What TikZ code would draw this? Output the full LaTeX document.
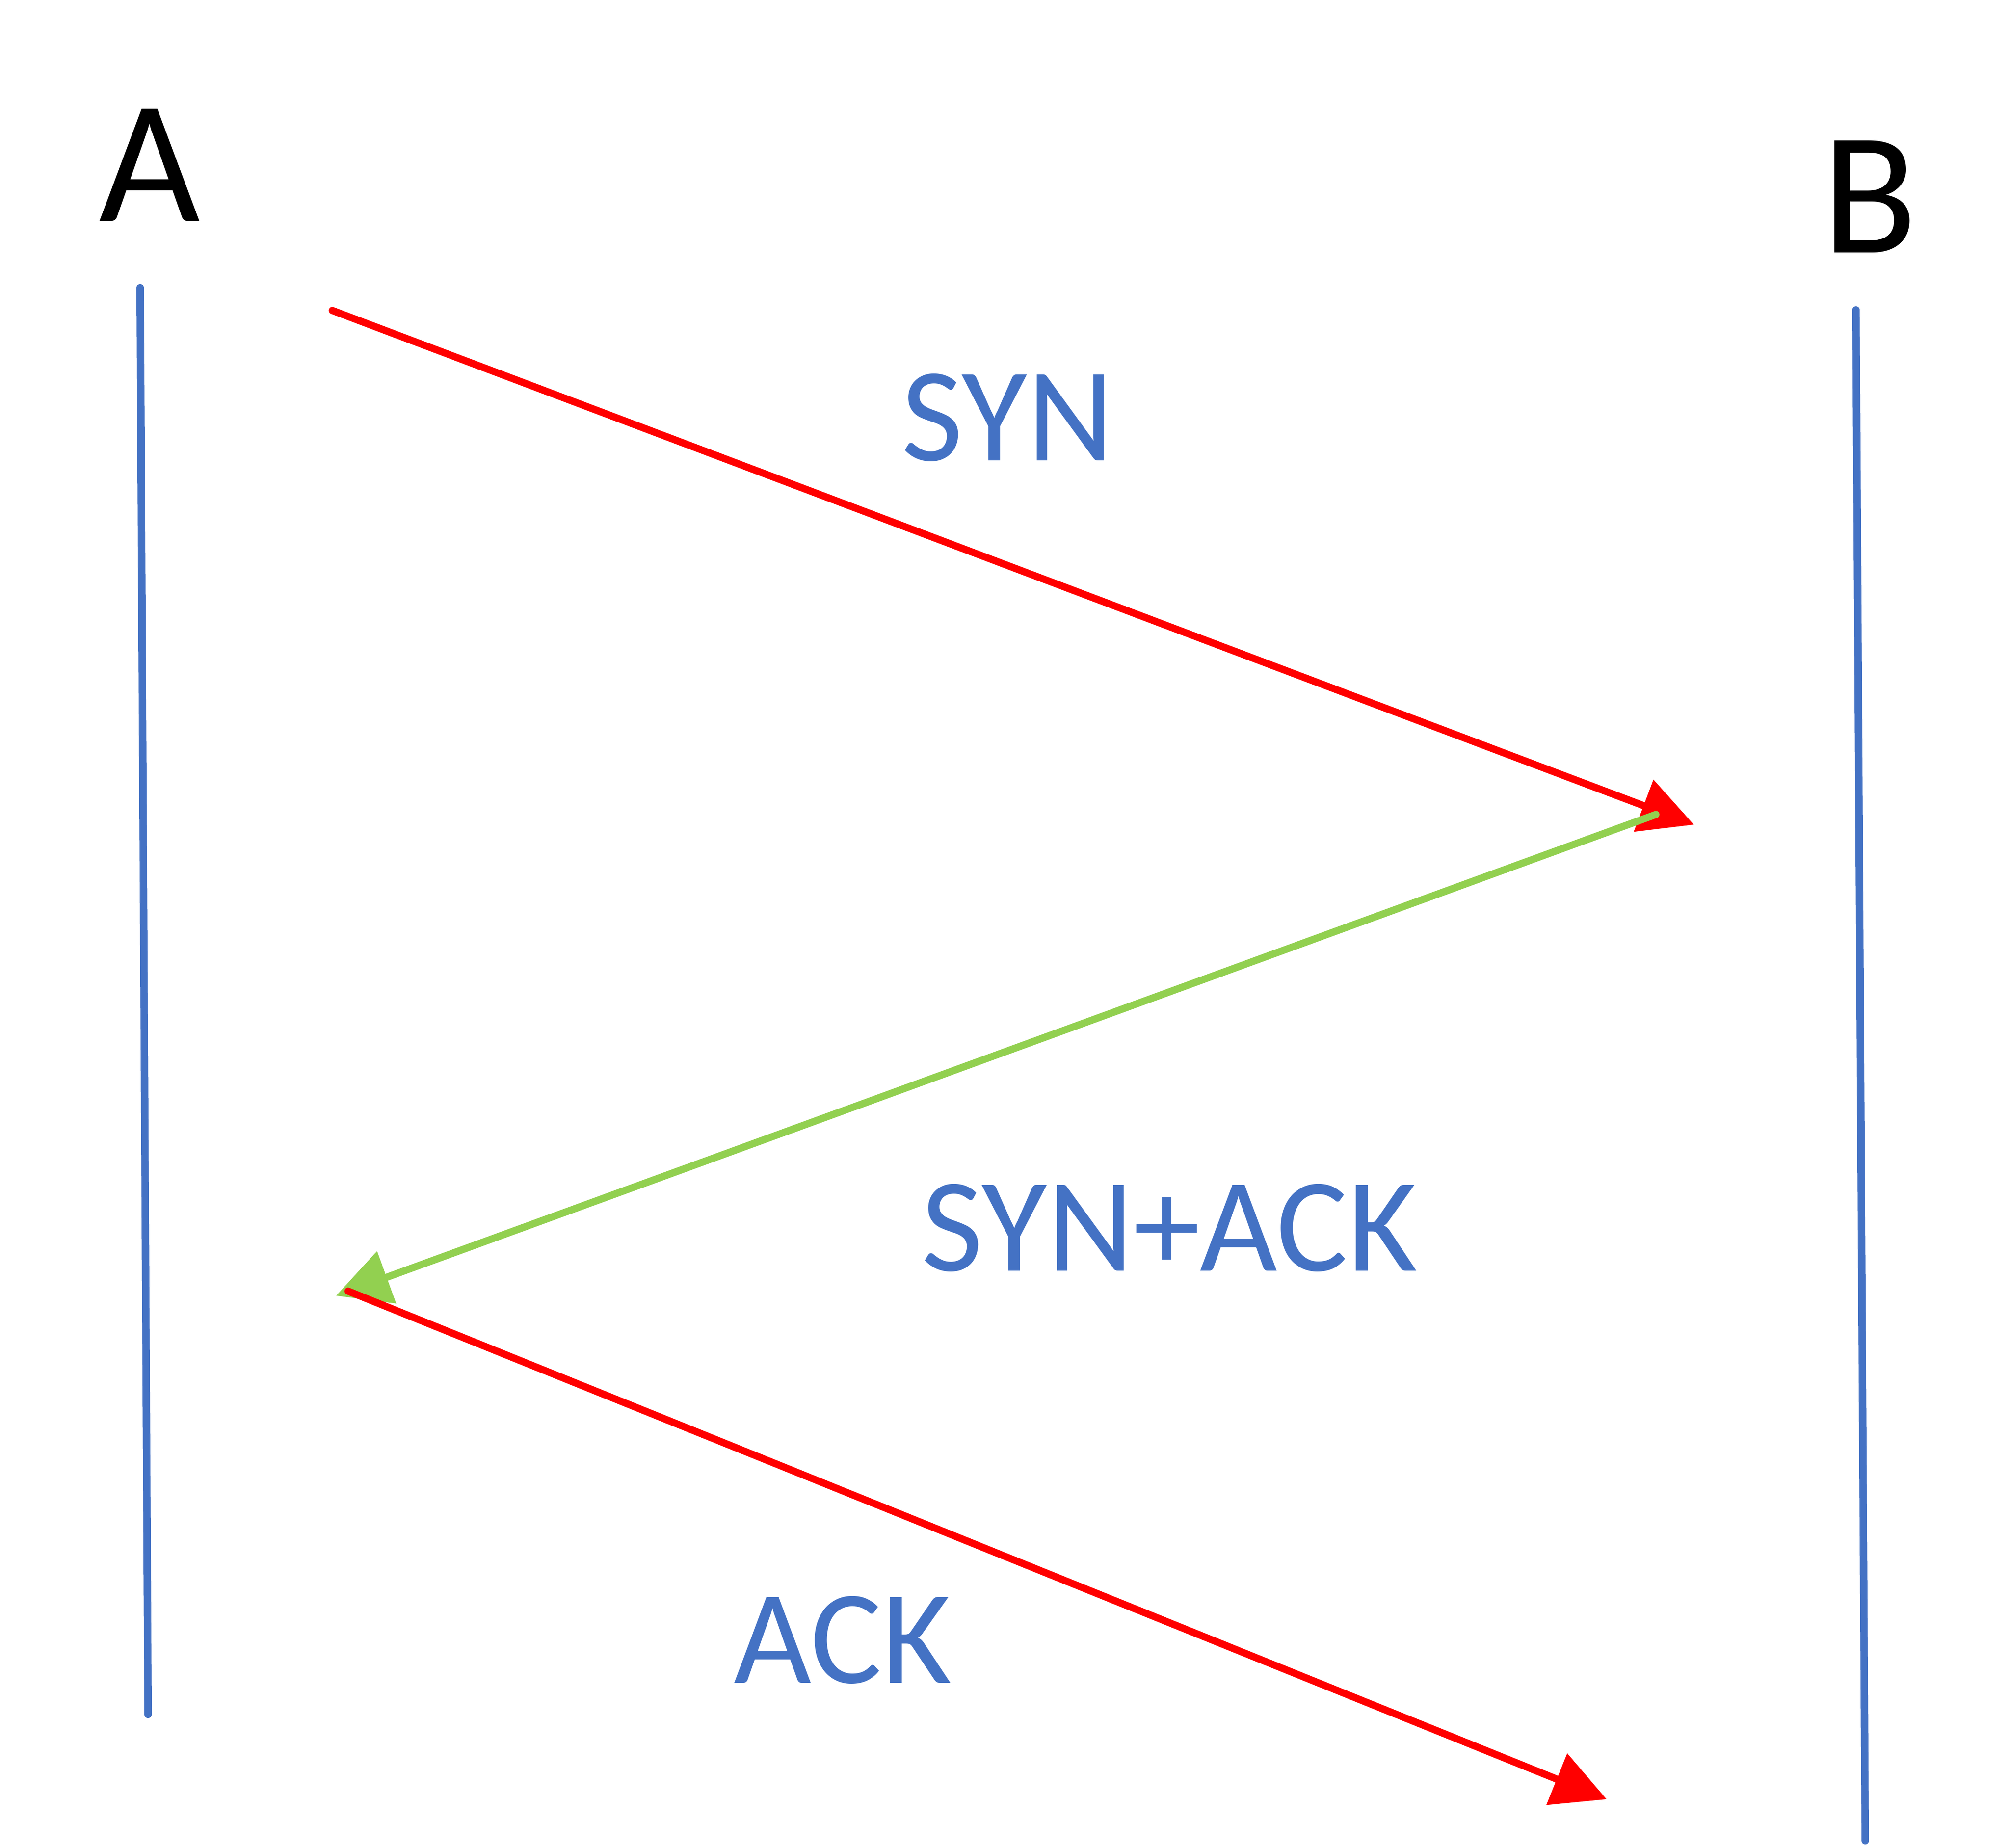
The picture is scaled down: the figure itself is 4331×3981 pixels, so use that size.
\documentclass[tikz,border=0pt]{standalone}
\usepackage{fontspec}
\setmainfont{Carlito}
\usetikzlibrary{arrows.meta}
\definecolor{lineblue}{HTML}{4472C4}
\definecolor{msgred}{HTML}{FF0000}
\definecolor{msggreen}{HTML}{92D050}
\tikzset{
  host/.style={inner sep=0pt,font=\fontsize{107}{107}\selectfont},
  msg/.style={inner sep=0pt,text=lineblue,font=\fontsize{82}{82}\selectfont},
  life/.style={draw=lineblue,line width=4.6pt,line cap=round},
  send/.style={line width=4.4pt,line cap=round,
    -{Triangle[length=1.16cm,width=1.16cm]}}
}
\begin{document}
\begin{tikzpicture}[x=0.01cm,y=-0.01cm]
	\useasboundingbox (0,0) rectangle (4331,3981);

	\node[host] (A) at (322,356) {A}; \node[host] (B) at (4029,424) {B};

	\coordinate (a0) at (302,620); \coordinate (a1) at (319,3694);
	\coordinate (b0) at (3999,668); \coordinate (b1) at (4019,3966);
	\draw[life] (a0) -- (a1); \draw[life] (b0) -- (b1);

	\coordinate (syn0) at (716,669); \coordinate (syn1) at (3650,1777);
	\coordinate (sa0) at (3568,1755); \coordinate (sa1) at (724,2792);
	\coordinate (ack0) at (750,2782); \coordinate (ack1) at (3462,3877);
	\draw[send,msgred] (syn0) -- (syn1);
	\draw[send,msggreen] (sa0) -- (sa1);
	\draw[send,msgred] (ack0) -- (ack1);

	\node[msg] (syn) at (2171,900) {SYN};
	\node[msg] (synack) at (2520,2646) {SYN+ACK};
	\node[msg] (ack) at (1816,3534) {ACK};
\end{tikzpicture}
\end{document}
